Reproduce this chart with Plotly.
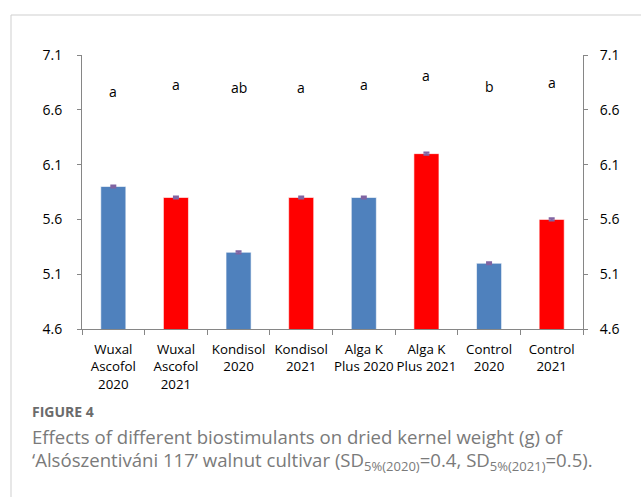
import plotly.graph_objects as go

categories = ["Wuxal<br>Ascofol<br>2020", "Wuxal<br>Ascofol<br>2021", "Kondisol<br>2020", "Kondisol<br>2021",
              "Alga K<br>Plus 2020", "Alga K<br>Plus 2021", "Control<br>2020", "Control<br>2021"]
values = [5.9, 5.8, 5.3, 5.8, 5.8, 6.2, 5.2, 5.6]
errors = [0.01, 0.01, 0.01, 0.01, 0.01, 0.01, 0.01, 0.01]
years = ["2020", "2021", "2020", "2021", "2020", "2021", "2020", "2021"]
letters = ["a", "a", "ab", "a", "a", "a", "b", "a"]
letter_y = [6.77, 6.83, 6.80, 6.80, 6.83, 6.91, 6.81, 6.85]
tick_vals = [4.6, 5.1, 5.6, 6.1, 6.6, 7.1]

colors = ["#4F81BD" if y == "2020" else "#FF0000" for y in years]

W, H = 641, 497
L, R, T, B = 82, 58, 55, 168

fig = go.Figure()
fig.add_trace(go.Bar(
    x=categories, y=values, base=0,
    marker=dict(color=colors, line=dict(color="rgba(255,255,255,0.6)", width=1)),
    width=0.4,
    error_y=dict(type="data", array=errors, visible=True, color="#8064A2", thickness=2, width=3),
    showlegend=False,
))
# invisible trace for right axis
fig.add_trace(go.Scatter(x=categories, y=values, yaxis="y2", mode="markers",
                         marker=dict(opacity=0), showlegend=False, hoverinfo="skip"))

chart_font = "Open Sans, sans-serif"
for c, t, y in zip(categories, letters, letter_y):
    fig.add_annotation(x=c, y=y, text=t, showarrow=False,
                       font=dict(family=chart_font, size=14, color="#000"))

axis_font = dict(family=chart_font, size=14, color="#000")
x_font = dict(family=chart_font, size=13.3, color="#000")
fig.update_layout(
    width=W, height=H,
    margin=dict(l=L, r=R, t=T, b=B),
    plot_bgcolor="white", paper_bgcolor="white",
    xaxis=dict(type="category", showline=True, linecolor="#868686", linewidth=1,
               ticks="outside", tickson="boundaries", ticklen=5, tickcolor="#868686",
               tickfont=x_font, showgrid=False, ticklabelstandoff=8, tickangle=0),
    yaxis=dict(range=[4.6, 7.1], tickvals=tick_vals, ticktext=[f"{v:.1f}" for v in tick_vals],
               showline=True, linecolor="#868686", linewidth=1, ticks="outside", ticklen=4,
               tickcolor="#868686", tickfont=axis_font, showgrid=False, zeroline=False,
               ticklabelstandoff=12),
    yaxis2=dict(range=[4.6, 7.1], tickvals=tick_vals, ticktext=[f"{v:.1f}" for v in tick_vals],
                overlaying="y", side="right",
                showline=True, linecolor="#868686", linewidth=1, ticks="outside", ticklen=4,
                tickcolor="#868686", tickfont=axis_font, showgrid=False, zeroline=False,
                ticklabelstandoff=9),
)

pw, ph = W - L - R, H - T - B
def px(x):
    return (x - L) / pw
def py(y):
    return (H - B - y) / ph

# page border (left + top)
fig.add_shape(type="line", xref="paper", yref="paper", x0=px(11), x1=px(W + 5), y0=py(15), y1=py(15),
              line=dict(color="#cfcfcf", width=1))
fig.add_shape(type="line", xref="paper", yref="paper", x0=px(11), x1=px(11), y0=py(15), y1=py(H + 5),
              line=dict(color="#cfcfcf", width=1))

cap_font = "Open Sans, Noto Sans, sans-serif"
fig.add_annotation(xref="paper", yref="paper", x=px(30), y=py(411), xanchor="left", yanchor="middle",
                   text="<b>FIGURE 4</b>", showarrow=False,
                   font=dict(family=cap_font, size=14, color="#6b6b6b"))
fig.add_annotation(xref="paper", yref="paper", x=px(30), y=py(436), xanchor="left", yanchor="middle",
                   text="Effects of different biostimulants on dried kernel weight (g) of",
                   showarrow=False, font=dict(family=cap_font, size=18.6, color="#7a7a7a"))
fig.add_annotation(xref="paper", yref="paper", x=px(30), y=py(461), xanchor="left", yanchor="middle",
                   text="\u2018Als\u00f3szentiv\u00e1ni 117\u2019 walnut cultivar (SD<sub>5%(2020)</sub>=0.4, SD<sub>5%(2021)</sub>=0.5).",
                   showarrow=False, font=dict(family=cap_font, size=18.6, color="#7a7a7a"))

fig.write_html("out.html")
